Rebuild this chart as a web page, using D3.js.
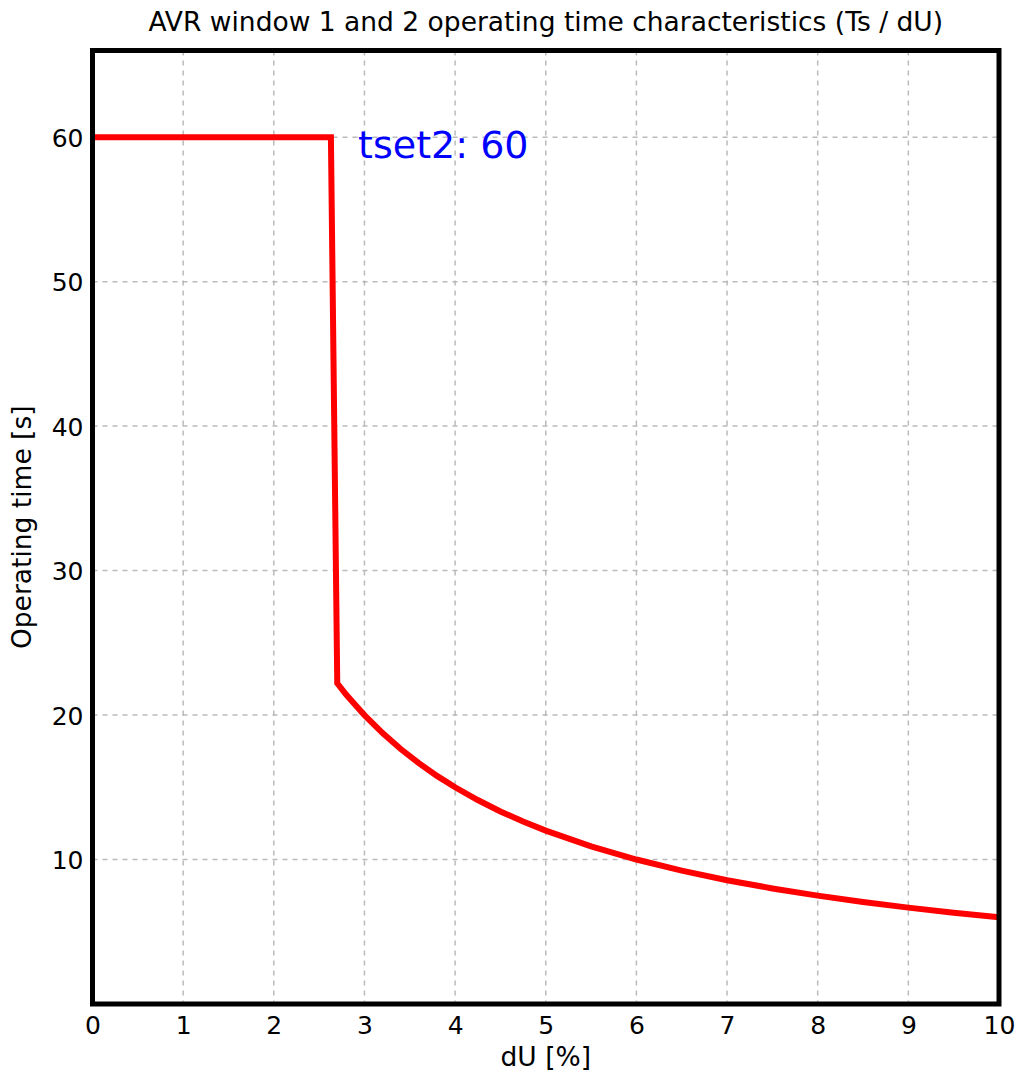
<!DOCTYPE html>
<html>
<head>
<meta charset="utf-8">
<script src="https://cdn.jsdelivr.net/npm/d3@7"></script>
<style>
  body { margin: 0; background: #fff; }
  text { font-family: "DejaVu Sans", sans-serif; fill: #000; }
</style>
</head>
<body>
<svg id="chart"></svg>
<script>
// values
var duValues   = [0, 2.63, 2.70, 2.8, 2.9, 3.0, 3.2, 3.4, 3.6, 3.8, 4.0, 4.25, 4.5, 4.75, 5.0, 5.5, 6.0, 6.5, 7.0, 7.5, 8.0, 8.5, 9.0, 9.5, 10.0];
var timeValues = [60, 60, 22.2, 21.4, 20.7, 20.0, 18.75, 17.65, 16.67, 15.79, 15.0, 14.12, 13.33, 12.63, 12.0, 10.91, 10.0, 9.23, 8.57, 8.0, 7.5, 7.06, 6.67, 6.32, 6.0];
var xTicks = [0, 1, 2, 3, 4, 5, 6, 7, 8, 9, 10];
var yTicks = [10, 20, 30, 40, 50, 60];
var titleText = "AVR window 1 and 2 operating time characteristics (Ts / dU)";
var xLabelText = "dU [%]";
var yLabelText = "Operating time [s]";
var noteText = "tset2: 60";

var W = 1016, H = 1072;
var margin = {top: 50.5, right: 17, bottom: 68, left: 92.5};
var iw = W - margin.left - margin.right;
var ih = H - margin.top - margin.bottom;

var svg = d3.select("#chart").attr("width", W).attr("height", H);
var g = svg.append("g").attr("transform", `translate(${margin.left},${margin.top})`);

var x = d3.scaleLinear().domain([0, 10]).range([0, iw]);
var y = d3.scaleLinear().domain([0, 66]).range([ih, 0]);

var pts = duValues.map(function(d, i){ return {du: d, t: timeValues[i]}; });

// grid
g.append("g").selectAll("line").data(xTicks.slice(1, -1)).enter().append("line")
  .attr("x1", function(d){ return x(d); }).attr("x2", function(d){ return x(d); })
  .attr("y1", 0).attr("y2", ih)
  .attr("stroke", "#b0b0b0").attr("stroke-width", 1.5).attr("stroke-dasharray", "5,5")
  .attr("opacity", 0.85);
g.append("g").selectAll("line").data(yTicks).enter().append("line")
  .attr("y1", function(d){ return y(d); }).attr("y2", function(d){ return y(d); })
  .attr("x1", 0).attr("x2", iw)
  .attr("stroke", "#b0b0b0").attr("stroke-width", 1.5).attr("stroke-dasharray", "5,5")
  .attr("opacity", 0.85);

// red characteristic
g.append("path")
  .datum(pts)
  .attr("fill", "none")
  .attr("stroke", "#ff0000")
  .attr("stroke-width", 6)
  .attr("stroke-linejoin", "miter")
  .attr("d", d3.line().x(function(d){ return x(d.du); }).y(function(d){ return y(d.t); }));

// annotation
g.append("text")
  .attr("x", x(2.93)).attr("y", y(60) + 21)
  .style("font-size", "38px").style("fill", "#0000ff")
  .text(noteText);

// axes
var xAxis = g.append("g").attr("transform", `translate(0,${ih})`)
  .call(d3.axisBottom(x).tickValues(xTicks).tickSize(0).tickPadding(12));
var yAxis = g.append("g")
  .call(d3.axisLeft(y).tickValues(yTicks).tickSize(0).tickPadding(9));
[xAxis, yAxis].forEach(function(a){
  a.select(".domain").remove();
  a.selectAll("text").style("font-size", "25px").style("font-family", "DejaVu Sans, sans-serif");
});
yAxis.selectAll("text").attr("dy", "0.36em");

// frame
g.append("rect")
  .attr("x", 0).attr("y", 0).attr("width", iw).attr("height", ih)
  .attr("fill", "none").attr("stroke", "#000").attr("stroke-width", 5);

// title and labels
svg.append("text")
  .attr("x", margin.left + iw / 2).attr("y", 31)
  .attr("text-anchor", "middle").style("font-size", "26.5px")
  .text(titleText);
svg.append("text")
  .attr("x", margin.left + iw / 2).attr("y", 1066)
  .attr("text-anchor", "middle").style("font-size", "26.5px")
  .text(xLabelText);
svg.append("text")
  .attr("transform", `translate(31,${margin.top + ih / 2}) rotate(-90)`)
  .attr("text-anchor", "middle").style("font-size", "26.5px")
  .text(yLabelText);
</script>
</body>
</html>
